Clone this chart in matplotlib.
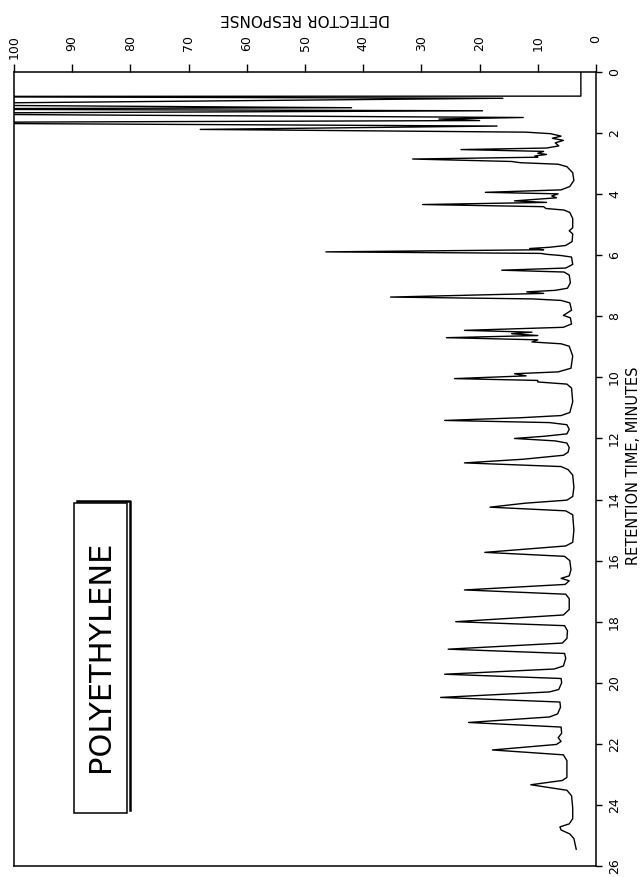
import matplotlib
matplotlib.use("Agg")
import matplotlib.pyplot as plt
from matplotlib.transforms import blended_transform_factory
from matplotlib.patches import Rectangle
from matplotlib.lines import Line2D

# Pyrolysis gas chromatogram of polyethylene: pen trace vertices
# (retention time in minutes, detector response in percent of full scale).
# Values above 100 are the off-scale excursions of the solvent/light-gas peaks.
time_min = [
    0.00, 0.79, 0.80, 0.86, 1.06, 1.17, 1.21, 1.27, 1.36, 1.49, 1.54, 1.59,
    1.66, 1.77, 1.88, 1.97, 2.02,
    2.10, 2.17, 2.24, 2.32, 2.42, 2.49, 2.54, 2.60, 2.66, 2.70, 2.75, 2.79,
    2.85, 2.93, 2.97, 3.02, 3.10, 3.30, 3.55, 3.75, 3.86, 3.94, 3.99, 4.06,
    4.12, 4.22, 4.27, 4.34, 4.41, 4.47, 4.52, 4.60,
    4.80, 5.10, 5.20, 5.30, 5.55, 5.68, 5.74, 5.78, 5.82, 5.89, 5.94, 5.97,
    6.01, 6.06, 6.30, 6.42, 6.49, 6.55, 6.65, 6.90, 7.08, 7.15, 7.20, 7.25,
    7.37, 7.43, 7.48, 7.56, 7.80, 7.97, 8.05, 8.25, 8.36, 8.46, 8.52, 8.57,
    8.63, 8.70, 8.77, 8.84, 8.90, 8.98, 9.30, 9.70, 9.82, 9.88, 9.95, 10.04,
    10.10, 10.15, 10.22, 10.35, 10.80, 11.15, 11.25, 11.32, 11.41, 11.48,
    11.55, 11.70, 11.85, 11.93, 12.00, 12.08, 12.15,
    12.30, 12.45, 12.55, 12.68, 12.80, 12.92, 13.02, 13.20, 13.60, 13.90,
    14.02, 14.12, 14.25, 14.37, 14.50, 15.00, 15.40, 15.52, 15.73, 15.86,
    16.00, 16.30, 16.50, 16.58, 16.66, 16.78, 16.96, 17.10, 17.25, 17.60,
    17.78, 18.00, 18.13, 18.30, 18.55, 18.70, 18.90, 19.04, 19.20, 19.45,
    19.55, 19.72, 19.86, 20.00, 20.22, 20.30, 20.48, 20.63, 20.80, 21.02,
    21.12, 21.30, 21.45, 21.65, 21.80, 21.92, 22.02, 22.20, 22.36, 22.55,
    22.90, 23.10, 23.20, 23.34, 23.52, 23.70, 24.10, 24.45, 24.62, 24.72,
    24.82, 24.95, 25.10, 25.45,
]
response = [
    2.6, 2.6, 130, 16.0, 130, 42.0, 130, 19.5, 130, 12.5, 27.0, 20.0,
    130, 17.0, 68.0, 12.0, 7.8,
    6.0, 7.5, 5.6, 7.0, 6.4, 8.5, 23.2, 9.0, 10.0, 8.5, 10.5, 10.0,
    31.5, 14.5, 13.0, 6.5, 5.0, 4.0, 3.8, 4.5, 6.0, 19.0, 6.5, 7.6,
    6.8, 14.0, 8.5, 29.8, 9.0, 8.6, 5.5, 4.5,
    4.0, 4.0, 4.6, 4.0, 4.1, 5.2, 8.0, 11.4, 9.0, 46.4, 9.5, 8.5,
    6.0, 4.2, 4.0, 5.2, 16.2, 5.5, 4.6, 4.4, 4.9, 7.0, 11.9, 9.0,
    35.3, 11.0, 6.0, 4.5, 4.2, 5.6, 4.4, 4.2, 5.6, 22.6, 11.0, 14.5,
    10.0, 25.7, 10.0, 11.0, 6.0, 4.6, 4.0, 4.3, 6.5, 14.0, 12.0, 24.3,
    10.0, 10.0, 5.0, 4.2, 4.0, 4.5, 6.0, 12.8, 26.0, 8.0,
    5.0, 4.6, 5.0, 9.0, 14.0, 7.0, 5.0,
    4.6, 4.8, 5.6, 12.5, 22.6, 6.0, 4.8, 4.0, 3.8, 4.0,
    5.0, 12.2, 18.2, 5.2, 4.0, 3.8, 4.0, 5.2, 19.1, 5.4,
    4.5, 4.3, 4.6, 6.0, 4.6, 5.3, 22.6, 5.2, 4.6, 4.6,
    5.6, 24.1, 5.4, 4.9, 5.0, 5.8, 25.4, 5.4, 5.2, 5.6,
    7.2, 26.0, 6.0, 5.9, 6.4, 8.0, 26.7, 6.2, 6.1, 6.6,
    8.0, 21.9, 6.0, 5.9, 6.5, 6.0, 6.8, 17.8, 5.6, 5.0,
    5.0, 5.0, 5.8, 11.2, 5.0, 4.2, 4.0, 4.0, 4.6, 6.2,
    6.0, 4.5, 3.8, 3.4,
]

response_ticks = list(range(0, 101, 10))
time_ticks = list(range(0, 27, 2))

W, H = 642, 877
fig = plt.figure(figsize=(W / 100, H / 100), dpi=100)
fig.patch.set_facecolor("white")

# Axes in pixel terms: frame from x=14..596, y=72..866
ax = fig.add_axes([14 / W, 1 - 866 / H, 582 / W, 794 / H])
ax.plot(response, time_min, color="black", lw=1.0, solid_joinstyle="round")
ax.set_xlim(100, 0)
ax.set_ylim(26, 0)

for side in ("top", "bottom", "left", "right"):
    ax.spines[side].set_linewidth(1.1)
    ax.spines[side].set_color("black")

ax.xaxis.set_ticks_position("top")
ax.set_xticks(response_ticks)
ax.set_xticklabels([])
ax.tick_params(axis="x", direction="out", length=6, width=1.0, color="black")
ax.yaxis.set_ticks_position("right")
ax.set_yticks(time_ticks)
ax.set_yticklabels([])
ax.tick_params(axis="y", direction="out", length=4.5, width=1.0, color="black")

label_font = dict(family="DejaVu Sans", color="black")

# Response tick labels above the frame, turned to read upward
top_tr = blended_transform_factory(ax.transData, fig.transFigure)
for v in response_ticks:
    ax.text(v, 1 - 35 / H, str(v), transform=top_tr, rotation=90,
            ha="center", va="top", fontsize=9, **label_font)

# Time tick labels to the right of the frame
right_tr = blended_transform_factory(fig.transFigure, ax.transData)
for t in time_ticks:
    ax.text(608 / W, t, str(t), transform=right_tr, rotation=90,
            ha="left", va="center", fontsize=9, **label_font)

fig.text(305 / W, 1 - 19 / H, "DETECTOR RESPONSE", rotation=180,
         ha="center", va="center", fontsize=11, **label_font)
fig.text(634 / W, 1 - 466 / H, "RETENTION TIME, MINUTES", rotation=90,
         ha="center", va="center", fontsize=10.5, **label_font)

# Title plate with a drop edge on its top and right sides
fig.patches.append(Rectangle((74 / W, 1 - 813 / H), (127 - 74) / W, (813 - 503) / H,
                             transform=fig.transFigure, fill=False,
                             edgecolor="black", lw=1.1))
fig.lines.append(Line2D([77 / W, 130 / W, 130 / W],
                        [1 - 500.5 / H, 1 - 500.5 / H, 1 - 810 / H],
                        transform=fig.transFigure, color="black", lw=1.8))
fig.text(100.5 / W, 1 - 656 / H, "POLYETHYLENE", rotation=90,
         ha="center", va="center", fontsize=22, **label_font)

fig.savefig("out.png", dpi=100, facecolor="white")
